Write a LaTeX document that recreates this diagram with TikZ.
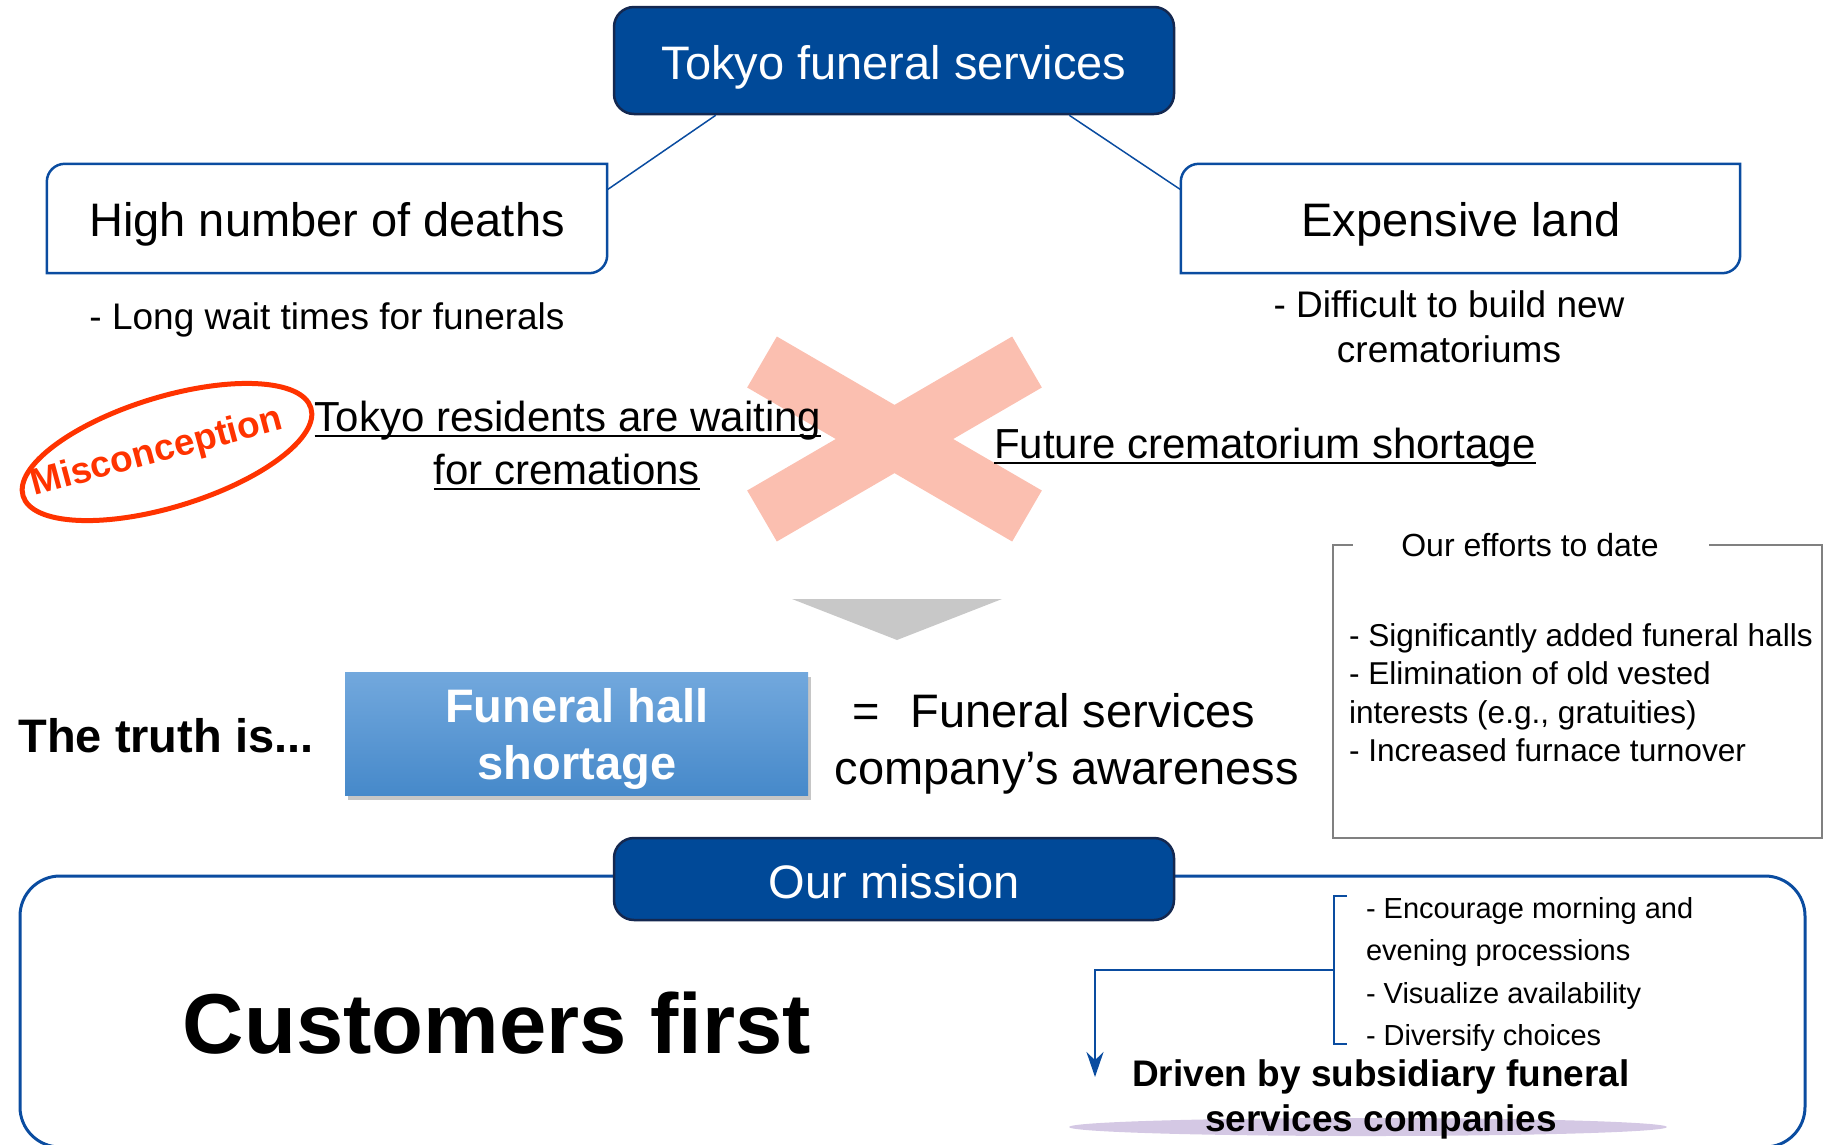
\documentclass[tikz,border=0pt]{standalone}
\usepackage{fontspec}
\setmainfont{Liberation Sans}
\usetikzlibrary{shapes.geometric,arrows.meta,shadows}
\definecolor{dkblue}{RGB}{0,73,152}
\definecolor{dkborder}{RGB}{20,40,80}
\definecolor{bblue}{RGB}{10,76,160}
\definecolor{redc}{RGB}{255,51,0}
\definecolor{xpink}{RGB}{251,191,176}
\definecolor{tri}{RGB}{200,200,200}
\definecolor{effg}{RGB}{128,128,128}
\definecolor{hallt}{RGB}{114,168,221}
\definecolor{hallb}{RGB}{70,137,202}
\definecolor{lav}{RGB}{212,200,228}
\newcommand\myul[1]{\setbox0\hbox{#1}\rlap{\rule[-0.15em]{\wd0}{0.055em}}\box0}
\tikzset{
  fs/.style={font=\fontsize{#1}{#1}\selectfont},
  bfs/.style={font=\fontsize{#1}{#1}\selectfont\bfseries},
  txt/.style={inner sep=0, outer sep=0, anchor=base},
  txtl/.style={inner sep=0, outer sep=0, anchor=base west},
  darkbox/.style={draw=dkborder, line width=2.5, fill=dkblue, rounded corners=20, inner sep=0},
  bline/.style={draw=bblue, line width=3},
  thinline/.style={draw=bblue, line width=1.5},
  xbar/.style={draw=xpink, line width=59},
}
\begin{document}
\begin{tikzpicture}[x=1pt,y=-1pt]
\useasboundingbox (0,0) rectangle (1824,1144);

% top box
\node[darkbox, minimum width=560, minimum height=107] (top) at (894,60.5) {};
\node[txt, fs=47, text=white] (toptxt) at (894,79) {Tokyo funeral services};

% left and right boxes
\node[minimum width=560, minimum height=109, inner sep=0] (L) at (327,218.5) {};
\draw[bline, line width=2.5] (L.south west) -- ([yshift=-18]L.north west) to[out=90,in=180] ([xshift=18]L.north west) -- (L.north east) -- ([yshift=18]L.south east) to[out=-90,in=0] ([xshift=-18]L.south east) -- cycle;
\node[txt, fs=47] (Ltxt) at (327,236) {High number of deaths};

\node[minimum width=559, minimum height=109, inner sep=0] (R) at (1460.5,218.5) {};
\draw[bline, line width=2.5] (R.south west) -- ([yshift=-18]R.north west) to[out=90,in=180] ([xshift=18]R.north west) -- (R.north east) -- ([yshift=18]R.south east) to[out=-90,in=0] ([xshift=-18]R.south east) -- cycle;
\node[txt, fs=47] (Rtxt) at (1461,236) {Expensive land};

\draw[thinline] ([xshift=103]top.south west) -- ([yshift=-26]L.north east);
\draw[thinline] ([xshift=-106]top.south east) -- ([yshift=-26]R.north west);

\node[txt, fs=37] (wait) at (327,329) {- Long wait times for funerals};
\node[txt, fs=37] (diff1) at (1449,317) {- Difficult to build new};
\node[txt, fs=37] (diff2) at (1449,362) {crematoriums};

% big X
\draw[xbar] (762,362) -- (1027,516);
\draw[xbar] (1027,362) -- (762,516);

% misconception
\node[ellipse, draw=redc, line width=5, minimum width=301, minimum height=110, inner sep=0, rotate=17] (mis) at (167,452) {};
\node[bfs=37, text=redc, inner sep=0, rotate=15] (mistxt) at (157,453) {Misconception};

\node[txt, fs=42] (res1) at (568,431) {\myul{Tokyo residents are waiting}};
\node[txt, fs=42] (res2) at (567,484) {\myul{for cremations}};
\node[txt, fs=42] (fut) at (1265,458) {\myul{Future crematorium shortage}};

% down triangle
\fill[tri] (792,599) -- (1002,599) -- (897,640) -- cycle;

% truth row
\node[txt, bfs=47] (truth) at (166,752) {The truth is...};
\node[minimum width=463, minimum height=123, inner sep=0, top color=hallt, bottom color=hallb, drop shadow={shadow xshift=3pt, shadow yshift=-4pt, opacity=0.45}] (hall) at (576.5,734) {};
\node[txt, bfs=47, text=white] (hall1) at (577,722) {Funeral hall};
\node[txt, bfs=47, text=white] (hall2) at (577,779) {shortage};
\node[txt, fs=47] (aw1) at (1054,727) {=\hspace{0.65em}Funeral services};
\node[txt, fs=47] (aw2) at (1067,784) {company’s awareness};

% efforts box
\node[minimum width=489, minimum height=293, inner sep=0] (effbox) at (1577.5,691.5) {};
\draw[effg, line width=2] ([xshift=20]effbox.north west) -- (effbox.north west) -- (effbox.south west) -- (effbox.south east) -- (effbox.north east) -- ([xshift=-113]effbox.north east);
\node[txt, fs=32] (efft) at (1530,556) {Our efforts to date};
\node[txtl, fs=31.6] (e1) at (1349,646.5) {- Significantly added funeral halls};
\node[txtl, fs=31.6] (e2) at (1349,684.8) {- Elimination of old vested};
\node[txtl, fs=31.6] (e3) at (1349,723) {interests (e.g., gratuities)};
\node[txtl, fs=31.6] (e4) at (1349,761.3) {- Increased furnace turnover};

% mission
\node[draw=bblue, line width=3, rounded corners=40, minimum width=1785, minimum height=271, inner sep=0] (missbox) at (912.5,1011.5) {};
\node[darkbox, minimum width=560, minimum height=82] (mission) at (894,879) {};
\node[txt, fs=47, text=white] (missiontxt) at (894,898) {Our mission};

\node[txt, bfs=85] (cust) at (497,1053) {Customers first};

\node[inner sep=0, minimum width=13, minimum height=148] (br) at (1340.5,970) {};
\draw[bline, line width=2] (br.north east) -- (br.north west) -- (br.south west) -- (br.south east);
\coordinate (arrend) at (1095,1077);
\draw[bline, line width=2.5, -{Stealth[length=25pt,width=17pt]}] (br.west) -| (arrend);

\node[txtl, fs=29] (m1) at (1366,918) {- Encourage morning and};
\node[txtl, fs=29] (m2) at (1366,960) {evening processions};
\node[txtl, fs=29] (m3) at (1366,1003) {- Visualize availability};
\node[txtl, fs=29] (m4) at (1366,1045) {- Diversify choices};

\fill[lav] (1368,1127) ellipse (299 and 9);
\node[txt, bfs=37] (drv1) at (1381,1086) {Driven by subsidiary funeral};
\node[txt, bfs=37] (drv2) at (1381,1131) {services companies};
\end{tikzpicture}
\end{document}
